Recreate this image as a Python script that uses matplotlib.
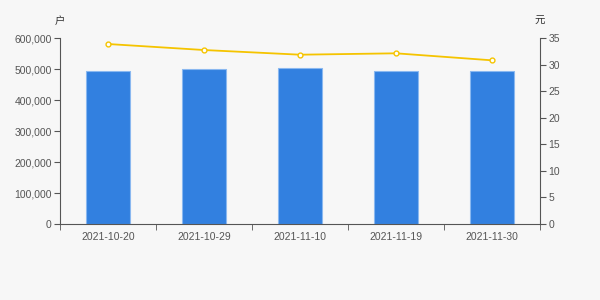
import matplotlib
matplotlib.use("Agg")
import numpy as np
from matplotlib import pyplot as plt
from matplotlib.ticker import FuncFormatter, FixedLocator

plt.rcParams['font.family'] = ['Liberation Sans', 'Noto Sans CJK SC', 'DejaVu Sans']

dates = ["2021-10-20", "2021-10-29", "2021-11-10", "2021-11-19", "2021-11-30"]
holders = [493500, 500000, 502000, 493500, 493500]
price = [33.87, 32.74, 31.86, 32.12, 30.80]

bg = "#f7f7f7"
axis_col = "#555555"
text_col = "#555555"

fig = plt.figure(figsize=(6, 3), dpi=100, facecolor=bg)
ax = fig.add_axes([0.1, 0.2533, 0.8, 0.62])
ax.set_facecolor(bg)

x = np.arange(len(dates))
ax.bar(x, holders, width=0.46, color="#3280e0", edgecolor="#8ab8f0", linewidth=0.8, zorder=2)
ax.set_xlim(-0.5, len(dates) - 0.5)
ax.set_ylim(0, 600000)
ax.set_yticks(np.arange(0, 600001, 100000))
ax.yaxis.set_major_formatter(FuncFormatter(lambda v, p: f"{int(v):,}"))

ax.set_xticks(x)
ax.set_xticklabels(dates)
ax.xaxis.set_minor_locator(FixedLocator(np.arange(-0.5, len(dates), 1.0)))
ax.tick_params(axis="x", which="major", length=0, pad=6, labelsize=7.5, labelcolor=text_col)
ax.tick_params(axis="x", which="minor", length=4, color=axis_col)
ax.tick_params(axis="y", length=4, color=axis_col, labelsize=7.5, labelcolor=text_col, pad=2)

for s in ["top", "right"]:
    ax.spines[s].set_visible(False)
for s in ["left", "bottom"]:
    ax.spines[s].set_color(axis_col)

ax2 = ax.twinx()
ax2.plot(x, price, color="#f5c400", linewidth=1.3, marker="o", markersize=3.5,
         markerfacecolor="white", markeredgecolor="#f5c400", markeredgewidth=1, zorder=3)
ax2.set_ylim(0, 35)
ax2.set_yticks(np.arange(0, 36, 5))
ax2.tick_params(axis="y", length=4, color=axis_col, labelsize=7.5, labelcolor=text_col, pad=2)
for s in ["top", "left", "bottom"]:
    ax2.spines[s].set_visible(False)
ax2.spines["right"].set_color(axis_col)

fig.text(0.1, 0.93, "户", ha="center", va="center", fontsize=7.5, color="#333333")
fig.text(0.9, 0.93, "元", ha="center", va="center", fontsize=7.5, color="#333333")

fig.savefig("out.png", dpi=100, facecolor=bg)
